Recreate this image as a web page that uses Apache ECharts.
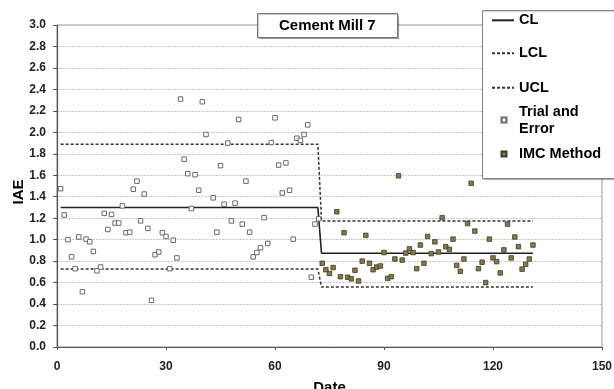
<!DOCTYPE html>
<html>
<head>
<meta charset="utf-8">
<script src="https://cdn.jsdelivr.net/npm/echarts@6/dist/echarts.min.js"></script>
<style>
  html, body { margin: 0; padding: 0; background: #fff; }
  #chart { width: 614px; height: 389px; }
</style>
</head>
<body>
<div id="chart"></div>
<script>
// Trial-and-error tuning period
const trialDates = [1, 2, 3, 4, 5, 6, 7, 8, 9, 10, 11, 12, 13, 14, 15, 16, 17, 18, 19, 20,
  21, 22, 23, 24, 25, 26, 27, 28, 29, 30, 31, 32, 33, 34, 35, 36, 37, 38, 39, 40,
  41, 43, 44, 45, 46, 47, 48, 49, 50, 51, 52, 53, 54, 55, 56, 57, 58, 59, 60,
  61, 62, 63, 64, 65, 66, 67, 68, 69, 70, 71, 72];
const trialIAE = [1.475, 1.23, 1.00, 0.84, 0.73, 1.025, 0.515, 1.005, 0.98, 0.89,
  0.71, 0.745, 1.245, 1.095, 1.235, 1.155, 1.155, 1.315, 1.065, 1.07,
  1.47, 1.545, 1.175, 1.425, 1.105, 0.435, 0.86, 0.885, 1.065, 1.03,
  0.73, 0.995, 0.83, 2.31, 1.75, 1.615, 1.29, 1.605, 1.46, 2.285,
  1.98, 1.39, 1.07, 1.69, 1.33, 1.90, 1.175, 1.34, 2.12, 1.145,
  1.545, 1.07, 0.84, 0.88, 0.925, 1.205, 0.965, 1.905, 2.135, 1.695,
  1.435, 1.715, 1.46, 1.005, 1.945, 1.925, 1.98, 2.07, 0.65, 1.145, 1.195];

// IMC-based tuning period
const imcDates = [73, 74, 75, 76, 77, 78, 79, 80, 81, 82, 83, 84, 85, 86, 87, 88, 89, 90,
  91, 92, 93, 94, 95, 96, 97, 98, 99, 100, 101, 102, 103, 104, 105, 106, 107, 108, 109, 110,
  111, 112, 113, 114, 115, 116, 117, 118, 119, 120, 121, 122, 123, 124, 125, 126, 127, 128,
  129, 130, 131];
const imcIAE = [0.78, 0.72, 0.685, 0.74, 1.26, 0.655, 1.065, 0.65, 0.635, 0.715,
  0.615, 0.80, 1.04, 0.78, 0.72, 0.745, 0.755, 0.88, 0.64, 0.655,
  0.82, 1.595, 0.81, 0.875, 0.915, 0.88, 0.73, 0.95, 0.78, 1.03,
  0.87, 0.98, 0.885, 1.205, 0.935, 0.91, 1.005, 0.76, 0.705, 0.82,
  1.15, 1.525, 1.08, 0.73, 0.79, 0.60, 1.005, 0.83, 0.795, 0.69,
  0.905, 1.145, 0.83, 1.025, 0.935, 0.725, 0.77, 0.82, 0.95];

// Control limits: step from the first period to the second
const limitDates = [1, 71.8, 72.8, 131];
const clIAE = [1.30, 1.30, 0.874, 0.874];
const uclIAE = [1.89, 1.89, 1.175, 1.175];
const lclIAE = [0.726, 0.726, 0.558, 0.558];

// Axis ranges
const dateRange = { min: 0, max: 150, step: 30 };
const iaeRange = { min: 0, max: 3.0, step: 0.2 };

const FONT = '"Liberation Sans", Arial, Helvetica, sans-serif';
const pairs = (xs, ys) => xs.map((x, i) => [x, ys[i]]);

const legendText = {
  fontFamily: FONT, fontWeight: 'bold', fontSize: 14.5, color: '#000', lineHeight: 17
};
const legendBase = {
  orient: 'vertical', left: 491, padding: 0, itemGap: 0, itemWidth: 22,
  selectedMode: false, z: 60, textStyle: legendText
};
// line entries: show only the stroke, hide the default marker
const lineLegend = Object.assign({}, legendBase, {
  itemHeight: 17,
  itemStyle: { color: 'rgba(0,0,0,0)', borderColor: 'rgba(0,0,0,0)', borderWidth: 0 }
});
// marker entries: a small square, text pushed to line up with the line entries
const markerLegend = Object.assign({}, legendBase, {
  left: 500.5, itemWidth: 5, itemHeight: 5,
  textStyle: Object.assign({}, legendText, { padding: [0, 0, 0, 7.5] })
});

const chart = echarts.init(document.getElementById('chart'), null, { renderer: 'canvas' });
chart.setOption({
  animation: false,
  backgroundColor: '#fff',
  title: {
    text: 'Cement Mill 7',
    left: 257, top: 13,
    padding: [4, 22],
    backgroundColor: '#fff',
    borderColor: '#777', borderWidth: 1,
    shadowColor: 'rgba(0,0,0,0.25)', shadowOffsetX: 1, shadowOffsetY: 1, shadowBlur: 1,
    z: 20,
    textStyle: { fontFamily: FONT, fontWeight: 'bold', fontSize: 15, lineHeight: 17, color: '#000' }
  },
  graphic: [{
    type: 'rect', left: 482, top: 10, z: 50,
    shape: { width: 140, height: 168 },
    style: { fill: '#fff', stroke: '#888', lineWidth: 1,
      shadowColor: 'rgba(0,0,0,0.2)', shadowOffsetY: 1, shadowBlur: 1 }
  }],
  legend: [
    Object.assign({}, lineLegend, { data: ['CL'], top: 11.8 }),
    Object.assign({}, lineLegend, { data: ['LCL'], top: 44.8 }),
    Object.assign({}, lineLegend, { data: ['UCL'], top: 79.2 }),
    Object.assign({}, markerLegend, {
      data: ['Trial and Error'], top: 94.5,
      formatter: () => 'Trial and\nError',
      textStyle: Object.assign({}, legendText, { padding: [17, 0, 0, 7.5] })
    }),
    Object.assign({}, markerLegend, { data: ['IMC Method'], top: 145.5 })
  ],
  grid: {
    left: 57, right: 12, top: 25, bottom: 42,
    outerBoundsMode: 'none',
    show: true, borderColor: '#999', borderWidth: 1, backgroundColor: 'transparent'
  },
  xAxis: {
    type: 'value',
    min: dateRange.min, max: dateRange.max, interval: dateRange.step,
    name: 'Date', nameLocation: 'middle', nameGap: 33, nameMoveOverlap: false,
    nameTextStyle: { fontFamily: FONT, fontWeight: 'bold', fontSize: 15, color: '#000' },
    axisLine: { lineStyle: { color: '#555', width: 1.2 } },
    axisTick: { show: true, inside: false, length: 3, lineStyle: { color: '#555' } },
    axisLabel: { fontFamily: FONT, fontWeight: 'bold', fontSize: 12, color: '#222', margin: 14 },
    splitLine: { show: false }
  },
  yAxis: {
    type: 'value',
    min: iaeRange.min, max: iaeRange.max, interval: iaeRange.step,
    name: 'IAE', nameLocation: 'middle', nameGap: 31, nameMoveOverlap: false,
    nameTextStyle: { fontFamily: FONT, fontWeight: 'bold', fontSize: 15, color: '#000', padding: [0, 12, 0, 0] },
    axisLine: { show: true, lineStyle: { color: '#555', width: 1.2 } },
    axisTick: { show: true, inside: false, length: 4, lineStyle: { color: '#555' } },
    axisLabel: {
      fontFamily: FONT, fontWeight: 'bold', fontSize: 12, color: '#222', margin: 11,
      formatter: v => v.toFixed(1)
    },
    splitLine: { show: true, lineStyle: { color: '#c8c8c8', type: [2, 1], width: 1 } }
  },
  series: [
    {
      name: 'CL', type: 'line', data: pairs(limitDates, clIAE),
      symbol: 'none', lineStyle: { color: '#222', width: 1.6 }, z: 3
    },
    {
      name: 'LCL', type: 'line', data: pairs(limitDates, lclIAE),
      symbol: 'none', lineStyle: { color: '#333', width: 1.5, type: [3, 2] }, z: 3
    },
    {
      name: 'UCL', type: 'line', data: pairs(limitDates, uclIAE),
      symbol: 'none', lineStyle: { color: '#333', width: 1.5, type: [3, 2] }, z: 3
    },
    {
      name: 'Trial and Error', type: 'scatter', data: pairs(trialDates, trialIAE),
      symbol: 'rect', symbolSize: 4.5,
      itemStyle: { color: '#fff', borderColor: '#6a6a6a', borderWidth: 1, opacity: 1 }, z: 4
    },
    {
      name: 'IMC Method', type: 'scatter', data: pairs(imcDates, imcIAE),
      symbol: 'rect', symbolSize: 4.5,
      itemStyle: { color: '#827a4c', borderColor: '#3f3b22', borderWidth: 0.8, opacity: 1 }, z: 4
    }
  ]
});
</script>
</body>
</html>
